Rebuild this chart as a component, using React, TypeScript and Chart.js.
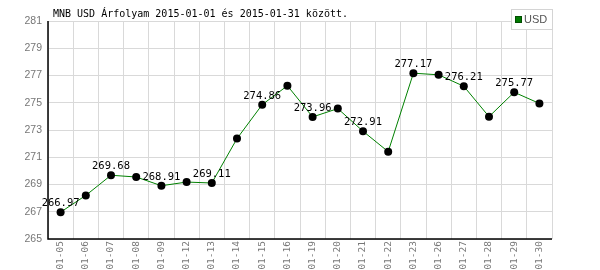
import React, { useEffect, useRef } from "react";
import { Chart, registerables } from "chart.js";

Chart.register(...registerables);

const title = "MNB USD Árfolyam 2015-01-01 és 2015-01-31 között.";
const seriesName = "USD";
const categories = [
  "01-05", "01-06", "01-07", "01-08", "01-09", "01-12", "01-13", "01-14", "01-15", "01-16",
  "01-19", "01-20", "01-21", "01-22", "01-23", "01-26", "01-27", "01-28", "01-29", "01-30",
];
const usdValues = [
  266.97, 268.2, 269.68, 269.55, 268.91, 269.18, 269.11, 272.37, 274.86, 276.25,
  273.96, 274.57, 272.91, 271.41, 277.17, 277.05, 276.21, 273.98, 275.77, 274.95,
];
const yMin = 265;
const yMax = 281;
const yStep = 2;

const overlayPlugin = {
  id: "overlay",
  afterDatasetsDraw(chart: any) {
    const ctx = chart.ctx;
    const meta = chart.getDatasetMeta(0);
    ctx.save();
    ctx.font = "10.5px 'DejaVu Sans Mono', monospace";
    ctx.fillStyle = "#000";
    ctx.textAlign = "center";
    ctx.textBaseline = "alphabetic";
    meta.data.forEach((pt: any, i: number) => {
      if (i % 2 !== 0) return;
      ctx.fillText(usdValues[i].toFixed(2), pt.x, pt.y - 6);
    });
    ctx.restore();
  },
  afterDraw(chart: any) {
    const ctx = chart.ctx;
    const area = chart.chartArea;
    ctx.save();
    ctx.font = "10px 'DejaVu Sans Mono', monospace";
    ctx.fillStyle = "#000";
    ctx.textAlign = "left";
    ctx.textBaseline = "alphabetic";
    ctx.fillText(title, 53, 17);
    const bx = 511.5, by = 9.5, bw = 41, bh = 20;
    ctx.fillStyle = "#fff";
    ctx.fillRect(bx, by, bw, bh);
    ctx.strokeStyle = "#d4d4d4";
    ctx.lineWidth = 1;
    ctx.strokeRect(bx, by, bw, bh);
    ctx.fillStyle = "#007a00";
    ctx.fillRect(515, 16, 7, 7);
    ctx.strokeStyle = "#004d00";
    ctx.strokeRect(515.5, 16.5, 6, 6);
    ctx.font = "11px 'Liberation Sans Narrow', 'Liberation Sans', sans-serif";
    ctx.fillStyle = "#555";
    ctx.textBaseline = "middle";
    ctx.fillText(seriesName, 524, 20);
    ctx.strokeStyle = "#000";
    ctx.lineWidth = 1.5;
    ctx.beginPath();
    ctx.moveTo(area.left, area.top);
    ctx.lineTo(area.left, area.bottom);
    ctx.lineTo(area.right, area.bottom);
    ctx.stroke();
    ctx.restore();
  },
};

export default function App() {
  const ref = useRef<HTMLCanvasElement>(null);
  useEffect(() => {
    if (!ref.current) return;
    const chart = new Chart(ref.current, {
      type: "line",
      data: {
        labels: categories,
        datasets: [
          {
            label: seriesName,
            data: usdValues,
            borderColor: "#008000",
            borderWidth: 1,
            pointBackgroundColor: "#000",
            pointBorderColor: "#000",
            pointRadius: 4,
            pointBorderWidth: 0,
            tension: 0,
            fill: false,
          },
        ],
      },
      options: {
        animation: false,
        responsive: false,
        maintainAspectRatio: false,
        layout: { padding: { top: 21, right: 48, left: 0, bottom: 0 } },
        plugins: {
          legend: { display: false },
          title: { display: false },
          tooltip: { enabled: false },
        },
        scales: {
          x: {
            type: "category",
            offset: true,
            grid: { offset: true, color: "#d9d9d9", drawTicks: false, lineWidth: 1 },
            border: { display: false },
            ticks: {
              maxRotation: 90,
              minRotation: 90,
              autoSkip: false,
              padding: 2,
              color: "#777",
              font: { family: "'DejaVu Sans Mono', monospace", size: 9.5 },
            },
            afterFit(scale: any) {
              scale.height = 31;
            },
          },
          y: {
            min: yMin,
            max: yMax,
            grid: { color: "#d9d9d9", drawTicks: false, lineWidth: 1 },
            border: { display: false },
            ticks: {
              stepSize: yStep,
              padding: 6,
              color: "#777",
              font: { family: "'Liberation Sans', Arial, sans-serif", size: 10.5 },
            },
            afterFit(scale: any) {
              scale.width = 48;
            },
          },
        },
      },
      plugins: [overlayPlugin],
    });
    return () => chart.destroy();
  }, []);
  return (
    <div style={{ position: "absolute", left: 0, top: 0, width: 600, height: 270, background: "#fff" }}>
      <canvas ref={ref} width={600} height={270} style={{ width: 600, height: 270 }} />
    </div>
  );
}
